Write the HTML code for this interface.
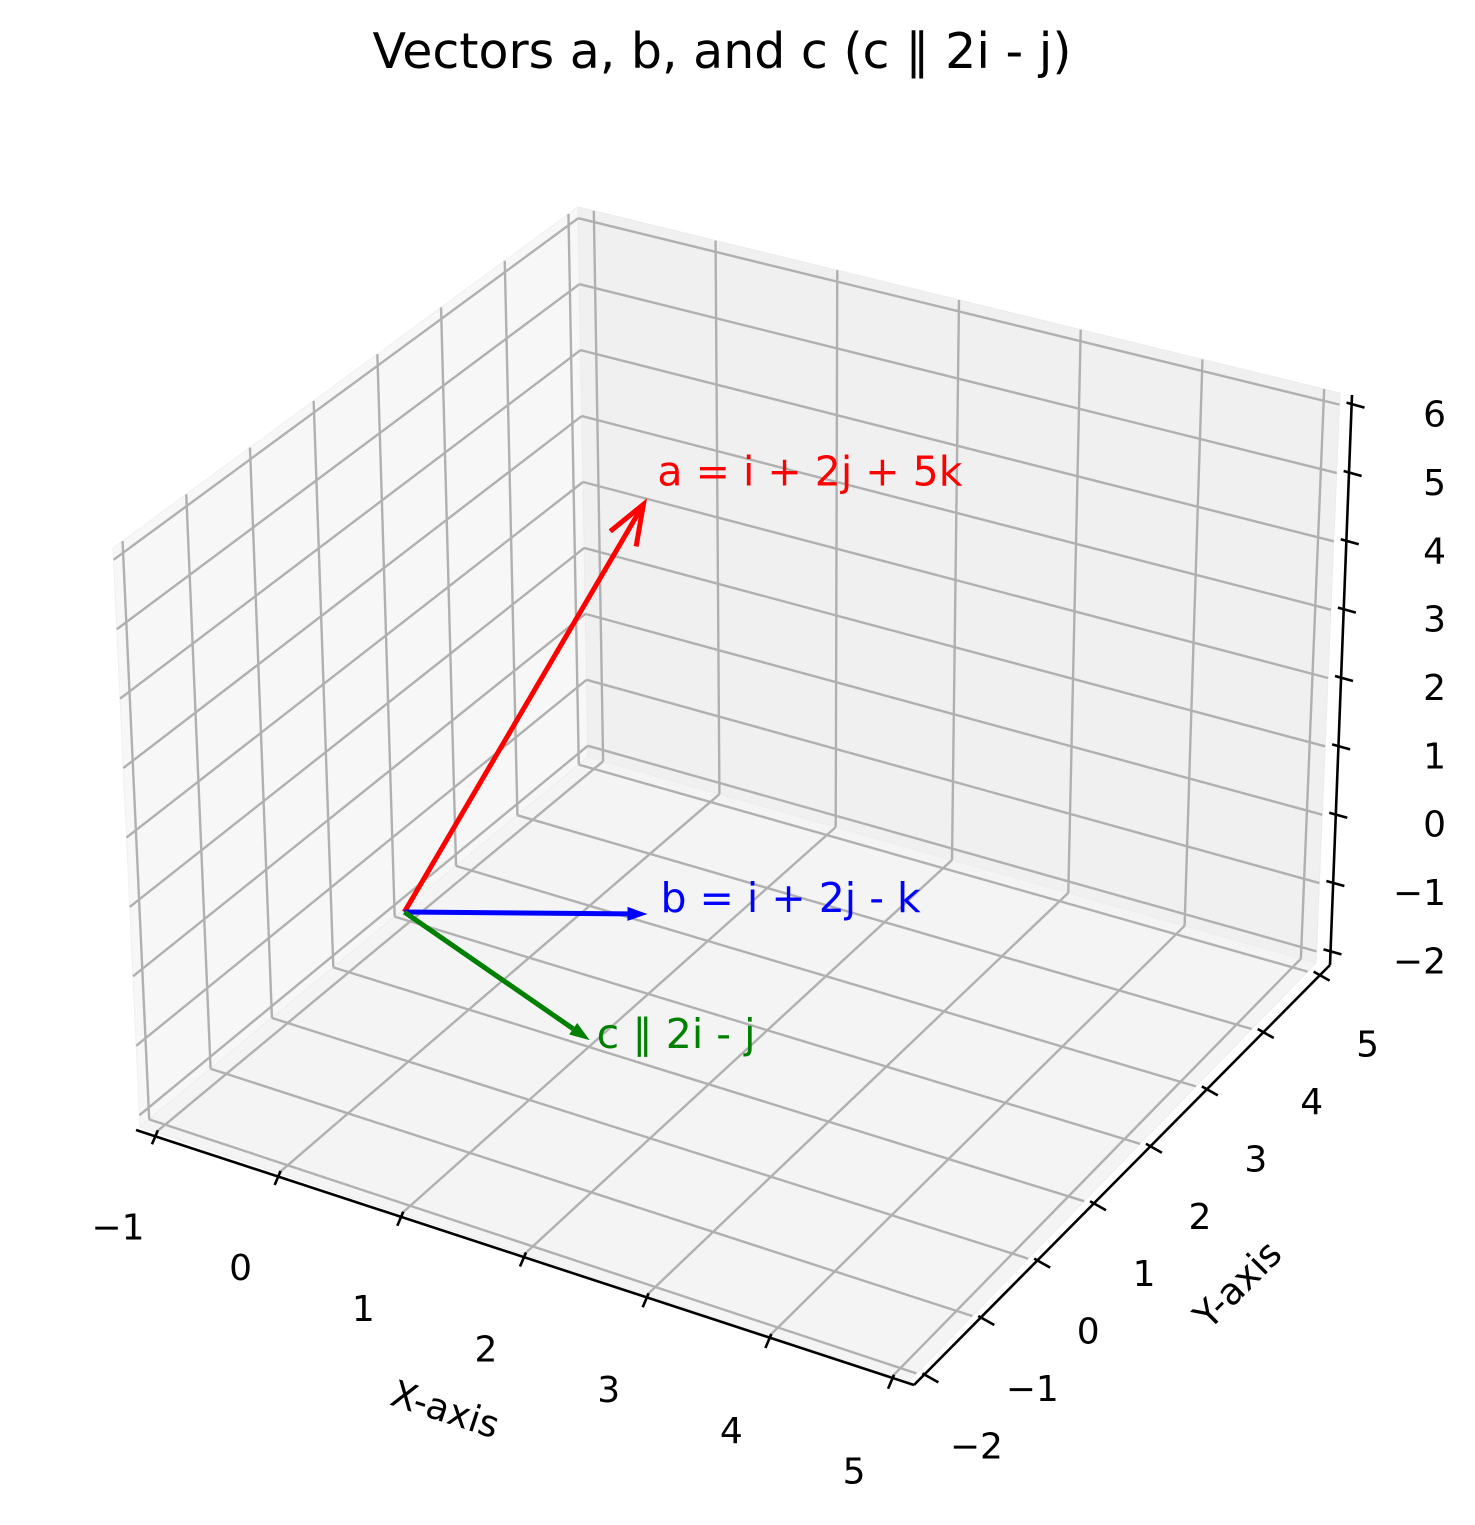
<!DOCTYPE html>
<html><head><meta charset="utf-8"><style>
html,body{margin:0;padding:0;background:#fff;}
svg{display:block;font-family:"DejaVu Sans","Liberation Sans",sans-serif;}
</style></head><body>
<svg id="chart" width="1475" height="1525" viewBox="0 0 1475 1525" xmlns="http://www.w3.org/2000/svg">
<text x="722" y="68" font-size="49" text-anchor="middle">Vectors a, b, and c (c ∥ 2i - j)</text>
<g id="panes"></g><g id="grid"></g><g id="axes"></g><g id="vectors"></g>
<text x="445" y="1422" font-size="37" text-anchor="middle" transform="rotate(18 445 1410)">X-axis</text>
<text x="1238" y="1297" font-size="37" text-anchor="middle" transform="rotate(-45 1238 1285)">Y-axis</text>
</svg>
<script>
const xTicks=[-1,0,1,2,3,4,5];
const yTicks=[-2,-1,0,1,2,3,4,5];
const zTicks=[-2,-1,0,1,2,3,4,5,6];
const vecNames=["a","b","c"];
const vecX=[1,1,2];
const vecY=[2,2,-1];
const vecZ=[5,-1,0];
const vecLabels=["a = i + 2j + 5k","b = i + 2j - k","c ∥ 2i - j"];
const vecColors=["#ff0000","#0000ff","#008000"];

const X0=-1.13,X1=5.13,Y0=-2.15,Y1=5.15,Z0=-2.17,Z1=6.17;
const C={ '000':[140,1127],'100':[908,1382],'010':[588,757],'110':[1316,963],
          '001':[113,548],'101':[916,782],'011':[578,207],'111':[1340,393]};
function P(x,y,z){
  const u=(x-X0)/(X1-X0),v=(y-Y0)/(Y1-Y0),w=(z-Z0)/(Z1-Z0);
  const L=(a,b,t)=>[a[0]+(b[0]-a[0])*t,a[1]+(b[1]-a[1])*t];
  const b0=L(L(C['000'],C['100'],u),L(C['010'],C['110'],u),v);
  const b1=L(L(C['001'],C['101'],u),L(C['011'],C['111'],u),v);
  return L(b0,b1,w);
}
const NS="http://www.w3.org/2000/svg";
function mk(tag,attrs,parent){const e=document.createElementNS(NS,tag);for(const k in attrs)e.setAttribute(k,attrs[k]);parent.appendChild(e);return e;}
const panes=document.getElementById('panes'),grid=document.getElementById('grid'),axes=document.getElementById('axes'),vecs=document.getElementById('vectors');
function poly(pts){return pts.map(p=>p.join(',')).join(' ');}
let e;
e=mk('polygon',{points:poly([P(X0,Y0,Z0),P(X0,Y1,Z0),P(X0,Y1,Z1),P(X0,Y0,Z1)]),fill:'#f7f7f7',stroke:'#f0f0f0'},panes);


e=mk('polygon',{points:poly([P(X0,Y1,Z0),P(X1,Y1,Z0),P(X1,Y1,Z1),P(X0,Y1,Z1)]),fill:'#f0f0f0',stroke:'#ebebeb'},panes);


e=mk('polygon',{points:poly([P(X0,Y0,Z0),P(X1,Y0,Z0),P(X1,Y1,Z0),P(X0,Y1,Z0)]),fill:'#f4f4f4',stroke:'#ededed'},panes);


function gl(a,b){const l=mk('line',{x1:a[0],y1:a[1],x2:b[0],y2:b[1],stroke:'#b0b0b0','stroke-width':2.4},grid);

}
xTicks.forEach(x=>{gl(P(x,Y0,Z0),P(x,Y1,Z0));gl(P(x,Y1,Z0),P(x,Y1,Z1));});
yTicks.forEach(y=>{gl(P(X0,y,Z0),P(X1,y,Z0));gl(P(X0,y,Z0),P(X0,y,Z1));});
zTicks.forEach(z=>{gl(P(X0,Y0,z),P(X0,Y1,z));gl(P(X0,Y1,z),P(X1,Y1,z));});
function al(a,b,name){const l=mk('line',{x1:a[0],y1:a[1],x2:b[0],y2:b[1],stroke:'#000','stroke-width':2.6},axes);

}
function lab(p,t,anchor,name){const s=mk('text',{x:p[0],y:p[1],'font-size':36,'text-anchor':anchor},axes);s.textContent=t;

}
const fmt=v=>v<0?'\u2212'+(-v):String(v);
let a0=P(X0,Y0,Z0),a1=P(X1,Y0,Z0);al([a0[0]-4,a0[1]+3],[a1[0]+6,a1[1]+3],'x-axis-line');
xTicks.forEach(x=>{const p=P(x,Y0,Z0);p[1]+=3;al([p[0]+2,p[1]-5],[p[0]-4,p[1]+9],'x-tick');lab([p[0]-38,p[1]+104],fmt(x),'middle','x-tick-label');});
a0=P(X1,Y0,Z0);a1=P(X1,Y1,Z0);al([a0[0]+6,a0[1]+3],[a1[0]+14,a1[1]+2],'y-axis-line');
yTicks.forEach(y=>{const p=P(X1,y,Z0);p[0]+=10;p[1]+=3;al([p[0]-4,p[1]-3],[p[0]+12,p[1]+6],'y-tick');lab([p[0]+50,p[1]+82],fmt(y),'middle','y-tick-label');});
a0=P(X1,Y1,Z0);a1=P(X1,Y1,Z1);al([a0[0]+14,a0[1]+2],[a1[0]+12,a1[1]+2],'z-axis-line');
zTicks.forEach(z=>{const p=P(X1,Y1,z);p[0]+=13;al([p[0]-6,p[1]-2],[p[0]+12,p[1]+3],'z-tick');lab([1446,p[1]+22],fmt(z),'end','z-tick-label');});
const O=P(0,0,0);
const offs=[[14,-30],[13,-13],[7,-3]];
vecNames.forEach((n,i)=>{
  const t=P(vecX[i],vecY[i],vecZ[i]);const c=vecColors[i];
  const dx=t[0]-O[0],dy=t[1]-O[1],L=Math.hypot(dx,dy),ux=dx/L,uy=dy/L,nx=-uy,ny=ux;
  const g=mk('g',{},vecs);
  
  
  if(i===0){
    mk('line',{x1:O[0],y1:O[1],x2:t[0],y2:t[1],stroke:c,'stroke-width':5},g);
    const h=40,w=15;
    mk('polyline',{points:poly([[t[0]-ux*h+nx*w,t[1]-uy*h+ny*w],t,[t[0]-ux*h-nx*w,t[1]-uy*h-ny*w]]),fill:'none',stroke:c,'stroke-width':5},g);
  }else{
    const h=20,w=7;
    mk('line',{x1:O[0],y1:O[1],x2:t[0]-ux*h,y2:t[1]-uy*h,stroke:c,'stroke-width':5},g);
    mk('polygon',{points:poly([t,[t[0]-ux*h+nx*w,t[1]-uy*h+ny*w],[t[0]-ux*h-nx*w,t[1]-uy*h-ny*w]]),fill:c},g);
  }
  const s=mk('text',{x:t[0]+offs[i][0],y:t[1]+offs[i][1],'font-size':41,fill:c,'dominant-baseline':'middle'},g);
  s.textContent=vecLabels[i];
  
  
});
</script>
</body></html>
